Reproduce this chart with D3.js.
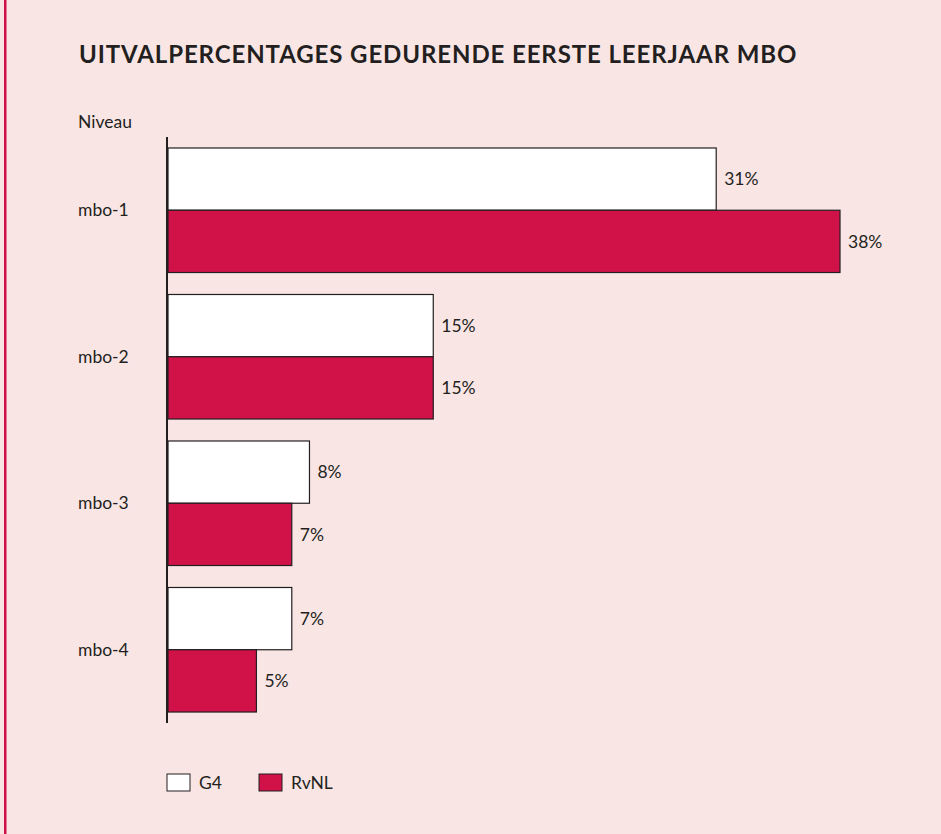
<!DOCTYPE html>
<html lang="nl">
<head>
<meta charset="utf-8"/>
<title>Uitvalpercentages</title>
<script src="https://cdn.jsdelivr.net/npm/d3@7"></script>
<style>
  body { margin: 0; background: #f9e5e4; }
  svg { display: block; font-family: Lato, "Open Sans", sans-serif; }
</style>
</head>
<body>
<svg id="chart"></svg>
<script>
const levels = ['mbo-1', 'mbo-2', 'mbo-3', 'mbo-4']
const seriesNames = ['G4', 'RvNL']
const g4 = [31, 15, 8, 7]
const rvnl = [38, 15, 7, 5]

const width = 941
const height = 834
const ink = '#231f20'
const red = '#d11249'
const fs = 17.5

const svg = d3.select('#chart')
  .attr('width', width)
  .attr('height', height)

svg.append('rect')
  .attr('width', width).attr('height', height)
  .attr('fill', '#f9e5e4')

// red border on the left
svg.append('rect')
  .attr('x', 4).attr('y', 0)
  .attr('width', 2.5).attr('height', height)
  .attr('fill', red)

svg.append('text')
  .attr('x', 79).attr('y', 63)
  .attr('font-size', 24).attr('font-weight', 700)
  .attr('letter-spacing', 0.9)
  .attr('fill', ink)
  .text('UITVALPERCENTAGES GEDURENDE EERSTE LEERJAAR MBO')

svg.append('text')
  .attr('x', 78).attr('y', 128)
  .attr('font-size', fs).attr('fill', ink)
  .text('Niveau')

const x = d3.scaleLinear().domain([0, 38]).range([168, 840])

const y = d3.scaleBand()
  .domain(levels)
  .range([137, 723])
  .paddingInner(0.15)
  .paddingOuter(0.075)

const y1 = d3.scaleBand()
  .domain(seriesNames)
  .range([0, y.bandwidth()])

const colours = d3.scaleOrdinal().domain(seriesNames).range(['#ffffff', red])

const rows = levels.map((lvl, i) => ({ lvl, vals: [
  { key: 'G4', v: g4[i] },
  { key: 'RvNL', v: rvnl[i] }
]}))

const groups = svg.append('g')
  .selectAll('g')
  .data(rows)
  .join('g')
  .attr('transform', d => `translate(0,${y(d.lvl)})`)

groups.selectAll('rect')
  .data(d => d.vals)
  .join('rect')
  .attr('x', x(0))
  .attr('y', d => y1(d.key))
  .attr('width', d => x(d.v) - x(0))
  .attr('height', y1.bandwidth())
  .attr('fill', d => colours(d.key))
  .attr('stroke', ink)
  .attr('stroke-width', 1.2)

groups.selectAll('text.val')
  .data(d => d.vals)
  .join('text')
  .attr('class', 'val')
  .attr('x', d => x(d.v) + 8)
  .attr('y', d => y1(d.key) + y1.bandwidth() / 2)
  .attr('dy', '0.35em')
  .attr('font-size', fs).attr('fill', ink)
  .text(d => d.v + '%')

// category labels
svg.append('g')
  .selectAll('text')
  .data(levels)
  .join('text')
  .attr('x', 78)
  .attr('y', d => y(d) + y.bandwidth() / 2)
  .attr('dy', '0.35em')
  .attr('font-size', fs).attr('fill', ink)
  .text(d => d)

// vertical axis line
svg.append('line')
  .attr('x1', 167).attr('x2', 167)
  .attr('y1', 137).attr('y2', 723)
  .attr('stroke', ink).attr('stroke-width', 2)

// legend
const legend = svg.append('g')
  .selectAll('g')
  .data(seriesNames)
  .join('g')
  .attr('transform', (d, i) => `translate(${167 + i * 92},774)`)

legend.append('rect')
  .attr('width', 23).attr('height', 17)
  .attr('fill', d => colours(d))
  .attr('stroke', ink).attr('stroke-width', 1)

legend.append('text')
  .attr('x', 32).attr('y', 8.5)
  .attr('dy', '0.35em')
  .attr('font-size', fs).attr('fill', ink)
  .text(d => d)
</script>
</body>
</html>
